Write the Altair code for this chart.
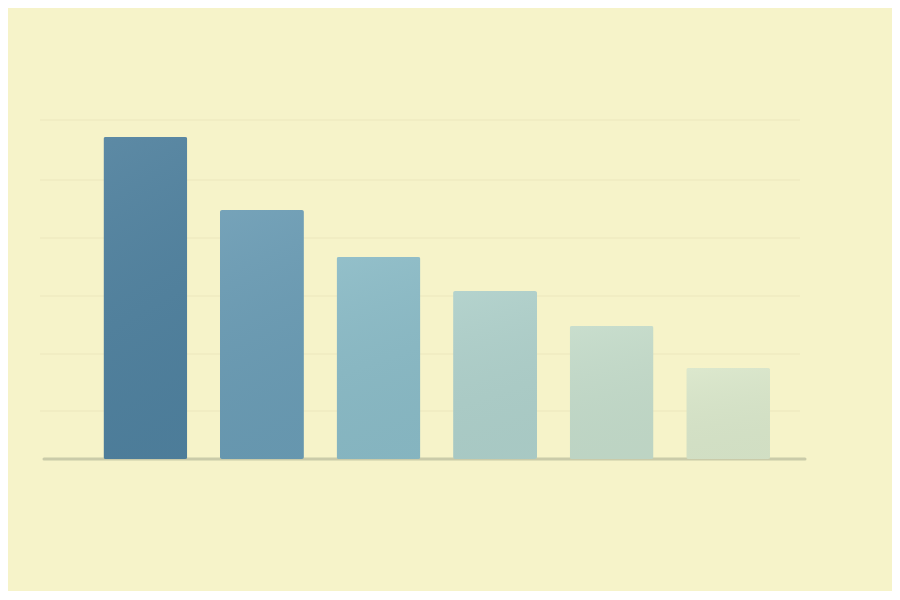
import altair as alt
import pandas as pd

# six bars, values (arbitrary units, baseline = 0)
categories = ["A", "B", "C", "D", "E", "F"]
values = [322, 249, 202, 168, 133, 91]
bar_colors = ["#4f809d", "#6a9bb3", "#8abac5", "#aecfc9", "#c4dbc9", "#d9e6c9"]
grid_values = [48, 105, 163, 221, 279, 339]

bars_df = pd.DataFrame({"category": categories, "value": values})
grid_df = pd.DataFrame({"value": grid_values})

y_scale = alt.Scale(domain=[0, 340], nice=False, zero=True)
x_scale = alt.Scale(paddingInner=0.28, paddingOuter=0.4, align=0.68)

grid = (
    alt.Chart(grid_df)
    .mark_rule(color="#ebe7bd", strokeWidth=1.2)
    .encode(y=alt.Y("value:Q", scale=y_scale, axis=None), x=alt.value(0), x2=alt.value(760))
)

baseline = (
    alt.Chart(pd.DataFrame({"value": [0]}))
    .mark_rule(color="#9ea38a", strokeWidth=3, opacity=0.5, strokeCap="round")
    .encode(y=alt.Y("value:Q", scale=y_scale, axis=None), x=alt.value(4), x2=alt.value(765))
)

base = alt.Chart(bars_df).encode(
    x=alt.X("category:N", scale=x_scale, axis=None, sort=categories),
    y=alt.Y("value:Q", scale=y_scale, axis=None),
)

bars = base.mark_bar(cornerRadius=2).encode(
    fill=alt.Fill("category:N", scale=alt.Scale(domain=categories, range=bar_colors), legend=None)
)

# soft light-to-dark wash over each bar
shade = base.mark_bar(
    cornerRadius=2,
    color={
        "gradient": "linear",
        "x1": 0, "y1": 0, "x2": 0.15, "y2": 1,
        "stops": [
            {"offset": 0, "color": "rgba(255,255,255,0.08)"},
            {"offset": 1, "color": "rgba(20,40,60,0.04)"},
        ],
    },
)

chart = (
    alt.layer(grid, baseline, bars, shade)
    .properties(
        width=760,
        height=340,
        autosize=alt.AutoSizeParams(type="none"),
        padding={"left": 32, "top": 111, "right": 92, "bottom": 132},
        background="#f6f3c9",
    )
    .configure_view(stroke=None)
)

chart.save("out.html", embed_options={"renderer": "svg", "actions": False})
